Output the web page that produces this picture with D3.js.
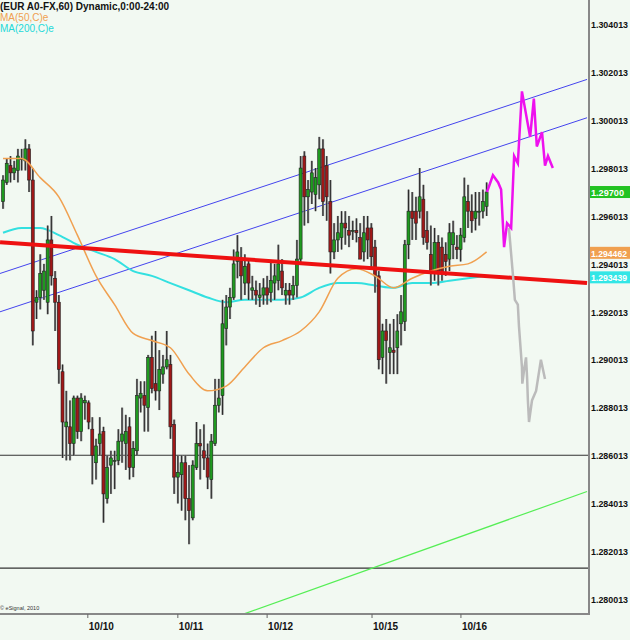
<!DOCTYPE html>
<html lang="en">
<head>
<meta charset="utf-8">
<title>EUR A0-FX 60</title>
<script src="https://cdn.jsdelivr.net/npm/d3@7"></script>
<style>
  body { margin: 0; background: #f2f9f2; }
  text { font-family: "Liberation Sans", Arial, sans-serif; }
</style>
</head>
<body>
<script>
// hourly bars, prices in 1/10000
var opens = [12966,12974,12981,12978,12979,12984,12983,12988,12975,12924,12926,12929,12924,12950,12934,12924,12895,12872,12872,12865,
  12884,12870,12882,12882,12871,12857,12865,12870,12842,12856,12858,12858,12866,12865,12872,12855,12862,12884,12885,12880,
  12901,12890,12887,12894,12897,12898,12873,12851,12852,12857,12842,12834,12855,12865,12862,12859,12850,12865,12881,12885,
  12913,12922,12926,12941,12942,12932,12940,12929,12929,12926,12927,12930,12928,12932,12933,12937,12927,12929,12927,12931,
  12942,12985,12968,12970,12969,12973,12988,12981,12966,12945,12950,12951,12957,12954,12954,12954,12951,12945,12955,12955,
  12947,12935,12901,12912,12903,12904,12905,12915,12916,12948,12962,12962,12962,12967,12954,12944,12936,12949,12947,12944,
  12942,12948,12947,12946,12951,12966,12962,12959,12962,12962,12964];
var highs = [12977,12984,12985,12983,12988,12988,12992,12990,12980,12929,12944,12940,12956,12960,12937,12927,12898,12887,12883,12885,
  12885,12886,12885,12883,12876,12867,12876,12872,12860,12862,12862,12871,12880,12877,12876,12866,12892,12891,12891,12902,
  12910,12912,12904,12902,12912,12902,12875,12860,12860,12860,12856,12858,12874,12871,12873,12865,12869,12892,12892,12925,
  12927,12930,12946,12952,12947,12944,12942,12935,12933,12932,12934,12935,12941,12940,12948,12942,12932,12932,12935,12950,
  12985,12987,12975,12983,12980,12993,12992,12985,12975,12957,12960,12962,12962,12960,12958,12959,12957,12960,12960,12957,
  12950,12937,12915,12917,12915,12917,12919,12927,12950,12971,12970,12968,12980,12973,12962,12956,12955,12952,12951,12949,
  12957,12958,12952,12955,12976,12973,12969,12970,12970,12971,12974];
var lows = [12963,12973,12974,12975,12974,12979,12979,12970,12906,12917,12921,12925,12919,12931,12912,12890,12859,12858,12858,12860,
  12867,12866,12875,12871,12848,12850,12860,12832,12840,12844,12846,12856,12857,12854,12850,12851,12860,12878,12870,12870,
  12886,12883,12879,12890,12896,12867,12844,12840,12837,12833,12823,12833,12854,12850,12854,12846,12842,12864,12878,12877,
  12906,12917,12925,12934,12925,12927,12925,12925,12923,12922,12923,12923,12924,12925,12929,12927,12923,12923,12925,12926,
  12940,12956,12957,12965,12962,12967,12960,12958,12936,12942,12945,12946,12948,12947,12950,12949,12942,12941,12942,12938,
  12928,12896,12894,12890,12894,12894,12894,12906,12912,12942,12950,12950,12959,12948,12946,12931,12933,12931,12933,12935,
  12937,12942,12942,12941,12949,12955,12953,12954,12956,12959,12960];
var closes = [12975,12982,12978,12980,12985,12984,12988,12975,12912,12926,12936,12937,12950,12935,12924,12896,12874,12874,12865,12884,
  12870,12884,12883,12874,12860,12864,12869,12844,12855,12859,12858,12866,12869,12870,12855,12863,12885,12886,12881,12901,
  12888,12887,12896,12897,12900,12872,12851,12853,12857,12842,12837,12856,12865,12864,12859,12851,12866,12881,12884,12915,
  12922,12926,12940,12945,12935,12939,12932,12930,12927,12927,12930,12927,12933,12935,12940,12930,12929,12927,12931,12942,
  12980,12968,12971,12978,12976,12988,12966,12968,12945,12950,12953,12957,12955,12952,12954,12953,12942,12953,12950,12943,
  12935,12900,12912,12908,12905,12903,12912,12920,12948,12962,12959,12957,12968,12951,12949,12936,12949,12936,12936,12941,
  12953,12953,12946,12952,12968,12962,12958,12962,12962,12966,12970];

// moving averages sampled every 5 bars (bar 0, 5, ... 130)
var maStep = 5;
var ma50 = [12984,12984,12976,12968,12952,12935,12923,12911,12908,12905,12894,12887,12889,12897,12905,12908,12912,12920,12934,12938,
  12935,12930,12934,12937,12939,12940,12945];
var ma200 = [12953,12955,12955,12952,12948,12945,12942,12937,12935,12932,12929,12926,12924,12925,12925,12925,12926,12930,12932,12932,
  12931,12930,12932,12932,12933,12934,12935];

// projected paths: [bar, price]
var projUp = [[130.1,12970],[131.7,12977],[133.1,12974],[133.9,12971],[134.7,12947],[135.5,12957],[136.6,12955],[137.4,12985],
  [138.4,12982],[139.5,13012],[141.7,12993],[142.7,13009],[143.5,12989],[144.9,12995],[145.7,12981],[146.5,12985],[147.8,12980]];
var projDown = [[136.0,12955],[137.1,12935],[137.6,12925],[138.4,12923],[138.7,12914],[139.5,12897],[139.6,12890],[140.1,12896],
  [140.6,12901],[140.9,12892],[141.1,12883],[141.4,12874],[142.2,12883],[143.3,12887],[144.6,12900],[145.7,12892]];

// drawn trend lines: [[bar, price], [bar, price]]
var channelUpper = [[-0.8,12936],[157,13017]];
var channelLower = [[-0.8,12920],[157,13001]];
var redLine = [[-0.8,12949],[157,12932]];
var greenLine = [[65,12794],[157,12845]];
var hLines = [12860.13, 12813];

var priceTicks = [1.304013,1.302013,1.300013,1.298013,1.296013,1.294013,1.292013,1.290013,1.288013,1.286013,1.284013,1.282013,1.280013];
var dateLabels = ["10/10","10/11","10/12","10/15","10/16"];
var dateBars = [22.8,47,71,99.2,123.1];
var tags = [{v:1.29700, c:"#22c322"},{v:1.294462, c:"#f0a050"},{v:1.293439, c:"#33e6e6"}];

var W = 630, H = 640, plotR = 588, plotB = 614;
var P = function(v) { return v / 10000; };

var x = d3.scaleLinear().domain([0, 130]).range([3, 486.6]);
var y = d3.scaleLinear().domain([1.304013, 1.280013]).range([24, 599]);

var svg = d3.select("body").append("svg").attr("width", W).attr("height", H);
svg.append("rect").attr("width", W).attr("height", H).attr("fill", "#f2f9f2");
svg.append("clipPath").attr("id", "clip").append("rect")
   .attr("width", plotR).attr("height", plotB);
var g = svg.append("g").attr("clip-path", "url(#clip)");

var seg = function(pts, color, width) {
  g.append("line")
   .attr("x1", x(pts[0][0])).attr("y1", y(P(pts[0][1])))
   .attr("x2", x(pts[1][0])).attr("y2", y(P(pts[1][1])))
   .attr("stroke", color).attr("stroke-width", width);
};

hLines.forEach(function(v) {
  g.append("line").attr("x1", 0).attr("x2", plotR)
   .attr("y1", y(P(v))).attr("y2", y(P(v)))
   .attr("stroke", "#333").attr("stroke-width", 1.2);
});
seg(greenLine, "#55ee55", 1.2);
seg(channelUpper, "#4444ee", 1);
seg(channelLower, "#4444ee", 1);

var line = d3.line().x(function(d) { return x(d[0]); }).y(function(d) { return y(P(d[1])); });
var maPts = function(arr) { return arr.map(function(v, i) { return [i * maStep, v]; }); };
g.append("path").attr("d", line.curve(d3.curveMonotoneX)(maPts(ma200)))
 .attr("fill", "none").attr("stroke", "#33e0e0").attr("stroke-width", 2);

// candles
var bars = g.selectAll("g.bar").data(closes).enter().append("g");
bars.append("rect")
    .attr("x", function(d, i) { return x(i) - 1; }).attr("width", 2.2)
    .attr("y", function(d, i) { return y(P(highs[i])); })
    .attr("height", function(d, i) { return y(P(lows[i])) - y(P(highs[i])); })
    .attr("fill", "#888");
bars.append("line")
    .attr("x1", function(d, i) { return x(i); }).attr("x2", function(d, i) { return x(i); })
    .attr("y1", function(d, i) { return y(P(highs[i])); })
    .attr("y2", function(d, i) { return y(P(lows[i])); })
    .attr("stroke", "#111").attr("stroke-width", 0.8);
bars.append("rect")
    .attr("x", function(d, i) { return x(i) - 1.5; }).attr("width", 3)
    .attr("y", function(d, i) { return y(P(Math.max(opens[i], d))); })
    .attr("height", function(d, i) { return Math.max(1, Math.abs(y(P(opens[i])) - y(P(d)))); })
    .attr("fill", function(d, i) { return d >= opens[i] ? "#1f9a1f" : "#a01818"; })
    .attr("stroke", "#222").attr("stroke-width", 0.6);

g.append("path").attr("d", line.curve(d3.curveMonotoneX)(maPts(ma50)))
 .attr("fill", "none").attr("stroke", "#f0a050").attr("stroke-width", 1.5);
seg(redLine, "#ee1111", 4);

line.curve(d3.curveLinear);
g.append("path").attr("d", line(projDown)).attr("fill", "none")
 .attr("stroke", "#bbbbbb").attr("stroke-width", 2.5);
g.append("path").attr("d", line(projUp)).attr("fill", "none")
 .attr("stroke", "#ee11ee").attr("stroke-width", 2.5);

// axes frame
svg.append("line").attr("x1", 589).attr("x2", 589).attr("y1", 0).attr("y2", plotB + 1)
   .attr("stroke", "#888").attr("stroke-width", 2);
svg.append("line").attr("x1", 0).attr("x2", 590).attr("y1", plotB).attr("y2", plotB)
   .attr("stroke", "#888").attr("stroke-width", 2);

var axisText = function(sel) {
  sel.attr("font-size", 9.5).attr("font-weight", "bold")
     .attr("textLength", 37).attr("lengthAdjust", "spacingAndGlyphs");
};
svg.selectAll("text.pt").data(priceTicks).enter().append("text")
   .attr("x", 591).attr("y", function(d) { return y(d) + 4; })
   .attr("fill", "#111").call(axisText)
   .text(function(d) { return d.toFixed(6); });

svg.selectAll("line.dt").data(dateBars).enter().append("line")
   .attr("x1", function(d) { return x(d); }).attr("x2", function(d) { return x(d); })
   .attr("y1", plotB).attr("y2", plotB + 4).attr("stroke", "#666");
svg.selectAll("text.dt").data(dateLabels).enter().append("text")
   .attr("x", function(d, i) { return x(dateBars[i]) + 1; }).attr("y", 630)
   .attr("font-size", 10).attr("font-weight", "bold").attr("fill", "#111")
   .text(function(d) { return d; });

tags.forEach(function(t) {
  svg.append("rect").attr("x", 590).attr("y", y(t.v) - 6).attr("width", 40).attr("height", 12).attr("fill", t.c);
  var short = t.v === 1.297;
  svg.append("text").attr("x", 591).attr("y", y(t.v) + 4).attr("fill", "#fff")
     .call(axisText).attr("textLength", short ? 33 : 36)
     .text(t.v.toFixed(short ? 5 : 6));
});

svg.append("text").attr("x", 0).attr("y", 10).attr("font-size", 10).attr("font-weight", "bold")
   .attr("fill", "#111").text("(EUR A0-FX,60) Dynamic,0:00-24:00");
svg.append("text").attr("x", 0).attr("y", 21).attr("font-size", 10).attr("fill", "#f0a050").text("MA(50,C)e");
svg.append("text").attr("x", 0).attr("y", 32).attr("font-size", 10).attr("fill", "#22d8d8").text("MA(200,C)e");
svg.append("text").attr("x", 0).attr("y", 610).attr("font-size", 5.5).attr("fill", "#333").text("© eSignal, 2010");
</script>
</body>
</html>
